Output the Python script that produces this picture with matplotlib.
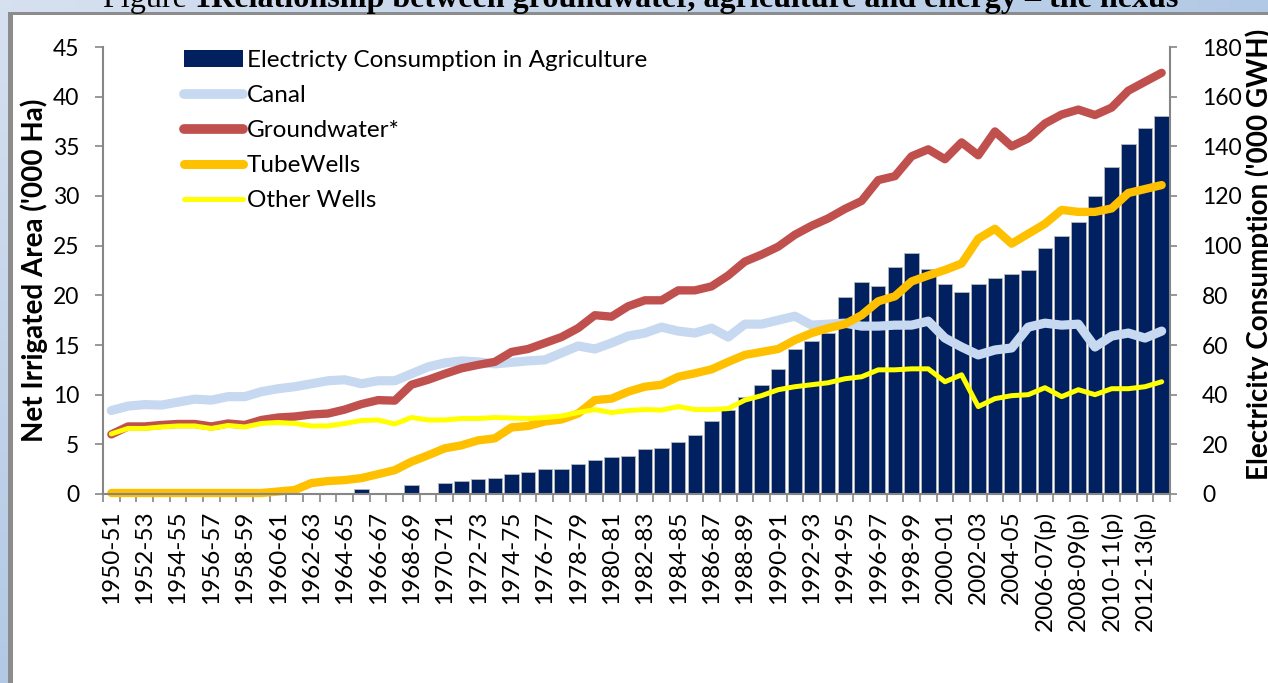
import numpy as np
import matplotlib.pyplot as plt
from matplotlib.lines import Line2D
from matplotlib.patches import Rectangle

plt.rcParams['font.family'] = ['Lato', 'DejaVu Sans']

# categories: 1950-51 ... 2013-14, provisional from 2006-07
years = []
for y in range(1950, 2014):
    lab = '%d-%02d' % (y, (y + 1) % 100)
    if y >= 2006:
        lab += '(p)'
    years.append(lab)

# right axis ('000 GWH)
electricity = [0, 0, 0, 0, 0, 0, 0, 0, 0, 0,
               0, 0, 0, 0, 0, 2.0, 0, 0, 3.6, 0,
               4.6, 5.1, 6.0, 6.3, 7.9, 8.7, 9.9, 10.2, 12.1, 13.7,
               14.8, 15.3, 18.0, 18.4, 21.1, 23.6, 29.5, 33.8, 38.9, 43.9,
               50.3, 58.4, 61.5, 65.0, 79.2, 85.5, 83.9, 91.3, 97.0, 90.7,
               84.7, 81.5, 84.4, 86.8, 88.5, 90.2, 98.9, 104.0, 109.4, 119.9,
               131.7, 140.8, 147.2, 152.3]

# left axis ('000 Ha)
canal = [8.4, 8.85, 9.0, 8.95, 9.25, 9.55, 9.45, 9.8, 9.8, 10.3,
         10.6, 10.8, 11.1, 11.4, 11.5, 11.1, 11.4, 11.4, 12.1, 12.8,
         13.2, 13.4, 13.3, 13.1, 13.25, 13.4, 13.5, 14.2, 14.9, 14.6,
         15.2, 15.9, 16.2, 16.8, 16.4, 16.2, 16.7, 15.8, 17.1, 17.1,
         17.5, 17.9, 17.0, 17.1, 17.2, 16.9, 16.9, 17.0, 17.0, 17.4,
         15.7, 14.8, 14.0, 14.5, 14.7, 16.8, 17.2, 17.0, 17.1, 14.8,
         15.9, 16.2, 15.7, 16.4]
groundwater = [6.0, 6.8, 6.8, 6.95, 7.05, 7.05, 6.8, 7.1, 6.95, 7.45,
               7.7, 7.8, 8.0, 8.1, 8.5, 9.05, 9.45, 9.4, 11.0, 11.5,
               12.1, 12.65, 13.0, 13.3, 14.3, 14.6, 15.2, 15.8, 16.7, 18.0,
               17.85, 18.9, 19.5, 19.5, 20.5, 20.5, 20.9, 22.0, 23.4, 24.1,
               24.9, 26.1, 27.0, 27.75, 28.7, 29.5, 31.6, 32.0, 34.0, 34.7,
               33.7, 35.4, 34.1, 36.5, 35.0, 35.8, 37.3, 38.2, 38.7, 38.15,
               38.9, 40.6, 41.5, 42.4]
tubewells = [0.1, 0.1, 0.1, 0.1, 0.1, 0.1, 0.1, 0.1, 0.1, 0.1,
             0.25, 0.4, 1.1, 1.3, 1.4, 1.6, 2.0, 2.4, 3.25, 3.9,
             4.6, 4.9, 5.4, 5.6, 6.7, 6.85, 7.3, 7.5, 8.1, 9.45,
             9.6, 10.3, 10.8, 11.0, 11.8, 12.15, 12.55, 13.3, 14.0, 14.3,
             14.6, 15.5, 16.2, 16.7, 17.1, 18.0, 19.4, 19.9, 21.4, 22.0,
             22.55, 23.2, 25.7, 26.7, 25.2, 26.2, 27.2, 28.6, 28.4, 28.4,
             28.75, 30.3, 30.7, 31.1]
other_wells = [6.05, 6.6, 6.6, 6.75, 6.85, 6.85, 6.6, 6.9, 6.75, 7.1,
               7.2, 7.1, 6.85, 6.85, 7.1, 7.4, 7.45, 7.05, 7.7, 7.45,
               7.45, 7.6, 7.6, 7.7, 7.65, 7.6, 7.7, 7.85, 8.2, 8.5,
               8.2, 8.4, 8.5, 8.45, 8.8, 8.5, 8.5, 8.6, 9.45, 9.9,
               10.5, 10.8, 11.0, 11.2, 11.6, 11.8, 12.5, 12.5, 12.6, 12.6,
               11.3, 12.0, 8.8, 9.6, 9.9, 10.0, 10.7, 9.8, 10.5, 10.0,
               10.6, 10.6, 10.8, 11.3]

W, H = 1268, 683
fig = plt.figure(figsize=(W / 100, H / 100), dpi=100)

# page background (blue gradient) + white chart frame
bg = fig.add_axes([0, 0, 1, 1], zorder=-10)
gx, gy = np.meshgrid(np.linspace(0, 1, 200), np.linspace(0, 1, 100))
t = np.clip((gx + gy) / 1.2, 0, 1)[..., None]
c0 = np.array([0.84, 0.88, 0.94])
c1 = np.array([0.67, 0.77, 0.89])
bg.imshow(c0 + (c1 - c0) * t, extent=[0, W, H, 0], aspect='auto')
bg.add_patch(Rectangle((13, 15), W, H, facecolor='white', edgecolor='none'))
bg.add_patch(Rectangle((8, 12), W, 3, facecolor='#8c8c8c', edgecolor='none'))
bg.add_patch(Rectangle((8, 12), 5, H, facecolor='#8c8c8c', edgecolor='none'))
bg.set_xlim(0, W)
bg.set_ylim(H, 0)
bg.axis('off')

# title, cut off by the page
t1 = fig.text(103 / W, 1 - 7.5 / H, 'Figure ', family='Liberation Serif', fontsize=23.1, va='baseline')
fig.canvas.draw()
ext = t1.get_window_extent()
fig.text(ext.x1 / W, 1 - 7.5 / H, '1Relationship between groundwater, agriculture and energy \u2013 the nexus',
         family='Liberation Serif', fontsize=23.1, fontweight='bold', va='baseline')

L, R, B, T = 103 / W, 1170 / W, 1 - 494 / H, 1 - 47 / H
ax = fig.add_axes([L, B, R - L, T - B])
ax2 = ax.twinx()
ax.set_zorder(ax2.get_zorder() + 1)
ax.patch.set_visible(False)
ax2.patch.set_visible(False)

x = np.arange(len(years))
ax2.bar(x, electricity, width=0.87, color='#002060', edgecolor='#b8b8b8', linewidth=0.6)

kw = dict(solid_capstyle='round', solid_joinstyle='round', clip_on=False)
ax.plot(x, canal, color='#c6d9f1', lw=6.6, **kw)
ax.plot(x, groundwater, color='#c0504d', lw=6.0, **kw)
ax.plot(x, tubewells, color='#ffc000', lw=6.0, **kw)
ax.plot(x, other_wells, color='#ffff00', lw=3.6, **kw)

ax.set_xlim(-0.5, len(years) - 0.5)
ax.set_ylim(0, 45)
ax2.set_ylim(0, 180)
ax.set_yticks(np.arange(0, 46, 5))
ax2.set_yticks(np.arange(0, 181, 20))
ax.set_xticks(x[::2])
ax.set_xticklabels(years[::2], rotation=90)
ax.set_xticks(np.arange(-0.5, len(years), 1), minor=True)

gray = '#868686'
ax.tick_params(axis='y', direction='out', length=6, width=1.2, color=gray, labelsize=16.5, pad=11)
ax2.tick_params(axis='y', direction='out', length=5, width=1.2, color=gray, labelsize=16.5, pad=18)
ax.tick_params(axis='x', which='major', length=0, labelsize=17.5, pad=12)
ax.tick_params(axis='x', which='minor', direction='out', length=6, width=1.2, color=gray)

for a in (ax, ax2):
    a.spines['top'].set_visible(False)
ax.spines['right'].set_visible(False)
ax2.spines['left'].set_visible(False)
ax2.spines['bottom'].set_visible(False)
for s in (ax.spines['left'], ax.spines['bottom'], ax2.spines['right']):
    s.set_color(gray)
    s.set_linewidth(1.5)

fig.text(34 / W, 1 - 270 / H, "Net Irrigated Area ('000 Ha)", rotation=90, ha='center', va='center',
         fontsize=20, fontweight='bold')
fig.text(1259 / W, 1 - 254 / H, "Electricity Consumption ('000 GWH)", rotation=90, ha='center', va='center',
         fontsize=20, fontweight='bold')

handles = [Rectangle((0, 0), 1, 1, facecolor='#002060'),
           Line2D([], [], color='#c6d9f1', lw=7, solid_capstyle='round'),
           Line2D([], [], color='#c0504d', lw=7, solid_capstyle='round'),
           Line2D([], [], color='#ffc000', lw=6.5, solid_capstyle='round'),
           Line2D([], [], color='#ffff00', lw=3.6, solid_capstyle='round')]
labels = ['Electricty Consumption in Agriculture', 'Canal', 'Groundwater*', 'TubeWells', 'Other Wells']
ax.legend(handles, labels, loc='upper left', bbox_to_anchor=(184 / W, 1 - 50 / H),
          bbox_transform=fig.transFigure, frameon=False, fontsize=17.5, handlelength=2.43,
          handletextpad=0.16, labelspacing=0.58, borderpad=0, borderaxespad=0)

fig.savefig('out.png', dpi=100)
